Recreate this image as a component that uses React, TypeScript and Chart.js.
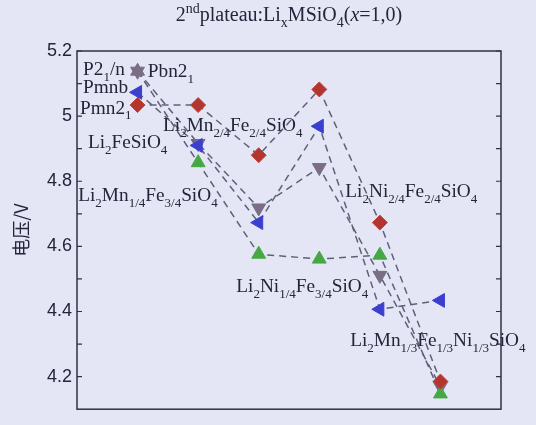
import { useEffect, useRef } from "react";
import { Chart, registerables } from "chart.js";

Chart.register(...registerables);

// Compositions along the horizontal direction (positions 0..5)
const compositions = [
  "Li2FeSiO4",
  "Li2Mn1/4Fe3/4SiO4",
  "Li2Mn2/4Fe2/4SiO4",
  "Li2Ni1/4Fe3/4SiO4",
  "Li2Ni2/4Fe2/4SiO4",
  "Li2Mn1/3Fe1/3Ni1/3SiO4",
];
const compositionIndex = [0, 1, 2, 3, 4, 5];

// Second-plateau voltages (V) for each space group
const pmn21 = [5.034, 5.034, 4.88, 5.082, 4.673, 4.185];
const pmnb = [5.073, 4.91, 4.673, 4.969, 4.407, 4.434];
const p21n = [5.138, 4.916, 4.718, 4.842, 4.511, 4.17];
const pbn21 = [5.138, 4.857, 4.576, 4.561, 4.573, 4.147];

// Axis ticks
const yMajorTicks = [4.2, 4.4, 4.6, 4.8, 5.0, 5.2];
const yMinorTicks = [4.3, 4.5, 4.7, 4.9, 5.1];

// Rich-text labels: _{} subscript, ^{} superscript, *{} italic
const titleText = "2^{nd}plateau:Li_{x}MSiO_{4}(*{x}=1,0)";
const labelTexts = [
  "P2_{1}/n",
  "Pbn2_{1}",
  "Pmnb",
  "Pmn2_{1}",
  "Li_{2}FeSiO_{4}",
  "Li_{2}Mn_{2/4}Fe_{2/4}SiO_{4}",
  "Li_{2}Mn_{1/4}Fe_{3/4}SiO_{4}",
  "Li_{2}Ni_{2/4}Fe_{2/4}SiO_{4}",
  "Li_{2}Ni_{1/4}Fe_{3/4}SiO_{4}",
  "Li_{2}Mn_{1/3}Fe_{1/3}Ni_{1/3}SiO_{4}",
];
// Left-baseline anchor of each label, in data units (x, voltage)
const labelAnchors: [number, number][] = [
  [-0.9, 5.126],
  [0.17, 5.12],
  [-0.9, 5.07],
  [-0.95, 5.008],
  [-0.82, 4.902],
  [0.42, 4.955],
  [-0.98, 4.74],
  [3.43, 4.752],
  [1.63, 4.46],
  [3.51, 4.294],
];

const SERIF = '"Liberation Serif", "Times New Roman", serif';
const BG = "#e4e6f5";
const AXIS = "#2f3247";
const TEXT = "#23253a";
const LINE = "#5e6179";

type Seg = { text: string; kind: "n" | "sub" | "sup" | "it" };

function parseRich(s: string): Seg[] {
  const out: Seg[] = [];
  const re = /_\{([^}]*)\}|\^\{([^}]*)\}|\*\{([^}]*)\}|([^_^*]+)/g;
  let m: RegExpExecArray | null;
  while ((m = re.exec(s))) {
    if (m[1] !== undefined) out.push({ text: m[1], kind: "sub" });
    else if (m[2] !== undefined) out.push({ text: m[2], kind: "sup" });
    else if (m[3] !== undefined) out.push({ text: m[3], kind: "it" });
    else out.push({ text: m[4], kind: "n" });
  }
  return out;
}

function segFont(kind: Seg["kind"], size: number) {
  const s = kind === "sub" || kind === "sup" ? Math.round(size * 0.68) : size;
  return `${kind === "it" ? "italic " : ""}${s}px ${SERIF}`;
}

function drawRich(
  ctx: CanvasRenderingContext2D,
  str: string,
  x: number,
  y: number,
  size: number,
  align: "left" | "center" = "left"
) {
  const segs = parseRich(str);
  let total = 0;
  const widths = segs.map((sg) => {
    ctx.font = segFont(sg.kind, size);
    const w = ctx.measureText(sg.text).width;
    total += w;
    return w;
  });
  let cx = align === "center" ? x - total / 2 : x;
  ctx.textAlign = "left";
  ctx.textBaseline = "alphabetic";
  segs.forEach((sg, i) => {
    ctx.font = segFont(sg.kind, size);
    const dy = sg.kind === "sub" ? size * 0.3 : sg.kind === "sup" ? -size * 0.42 : 0;
    ctx.fillText(sg.text, cx, y + dy);
    cx += widths[i];
  });
}

const framePlugin = {
  id: "frameAndLabels",
  beforeDraw(chart: Chart) {
    const { ctx, width, height } = chart;
    ctx.save();
    ctx.fillStyle = BG;
    ctx.fillRect(0, 0, width, height);
    ctx.restore();
  },
  beforeDatasetsDraw(chart: Chart) {
    const { ctx, chartArea } = chart;
    const y = chart.scales.y;
    const { left, right, top, bottom } = chartArea;
    ctx.save();
    ctx.strokeStyle = AXIS;
    ctx.lineWidth = 1.5;
    ctx.strokeRect(left, top, right - left, bottom - top);
    ctx.lineWidth = 1.2;
    ctx.beginPath();
    [...yMajorTicks, ...yMinorTicks].forEach((v) => {
      const py = y.getPixelForValue(v);
      ctx.moveTo(left, py);
      ctx.lineTo(left + 5, py);
      ctx.moveTo(right, py);
      ctx.lineTo(right - 5, py);
    });
    ctx.stroke();
    ctx.restore();
  },
  afterDatasetsDraw(chart: Chart) {
    const { ctx, chartArea } = chart;
    const xs = chart.scales.x;
    const ys = chart.scales.y;
    ctx.save();
    ctx.fillStyle = TEXT;
    drawRich(ctx, titleText, (chartArea.left + chartArea.right) / 2, chartArea.top - 30, 20, "center");
    labelTexts.forEach((t, i) => {
      const [dx, dy] = labelAnchors[i];
      drawRich(ctx, t, xs.getPixelForValue(dx), ys.getPixelForValue(dy), 19.3);
    });
    ctx.restore();
  },
};

function series(values: number[]) {
  return compositionIndex.map((x, i) => ({ x, y: values[i] }));
}

const lineStyle = {
  borderColor: LINE,
  borderWidth: 1.5,
  borderDash: [7, 5],
  showLine: true,
  fill: false,
  tension: 0,
  pointBorderWidth: 1,
};

export default function App() {
  const canvasRef = useRef<HTMLCanvasElement | null>(null);

  useEffect(() => {
    document.body.style.background = BG;
    const canvas = canvasRef.current;
    if (!canvas) return;
    const green = "#45a844";
    const gray = "#7a6e86";
    const chart = new Chart(canvas, {
      type: "line",
      data: {
        labels: compositions,
        datasets: [
          {
            ...lineStyle,
            label: "Pmn21",
            data: series(pmn21),
            pointStyle: "rectRot",
            pointRadius: 7.5,
            pointBackgroundColor: "#b3352f",
            pointBorderColor: "#c0453a",
          },
          {
            ...lineStyle,
            label: "Pbn21",
            data: series(pbn21),
            pointStyle: "triangle",
            pointRotation: 0,
            pointRadius: 8,
            pointBackgroundColor: pbn21.map((_, i) => (i === 0 ? gray : green)),
            pointBorderColor: pbn21.map((_, i) => (i === 0 ? gray : green)),
          },
          {
            ...lineStyle,
            label: "Pmnb",
            data: series(pmnb),
            pointStyle: "triangle",
            pointRotation: 270,
            pointRadius: 8,
            pointBackgroundColor: "#3a3fd0",
            pointBorderColor: "#3a3fd0",
          },
          {
            ...lineStyle,
            label: "P21/n",
            data: series(p21n),
            pointStyle: "triangle",
            pointRotation: 180,
            pointRadius: 8,
            pointBackgroundColor: gray,
            pointBorderColor: gray,
          },
        ],
      },
      options: {
        animation: false,
        responsive: true,
        maintainAspectRatio: false,
        devicePixelRatio: 1,
        layout: { padding: { left: 0, right: 35, top: 51, bottom: 1 } },
        plugins: {
          legend: { display: false },
          tooltip: { enabled: false },
          title: { display: false },
        },
        scales: {
          x: {
            type: "linear",
            min: -1,
            max: 6,
            display: false,
          },
          y: {
            type: "linear",
            min: 4.1,
            max: 5.2,
            grid: { display: false, drawTicks: false },
            border: { display: false },
            afterBuildTicks: (scale: any) => {
              scale.ticks = yMajorTicks.map((v) => ({ value: v }));
            },
            afterFit: (scale: any) => {
              scale.width = 77;
            },
            ticks: {
              padding: 5,
              color: TEXT,
              font: { family: '"Liberation Sans", Arial, sans-serif', size: 18 },
              callback: (v: any) => String(Math.round(Number(v) * 10) / 10),
            },
            title: {
              display: true,
              text: "电压/V",
              color: TEXT,
              font: { family: '"Noto Sans CJK SC", sans-serif', size: 18 },
              padding: { top: 10, bottom: 0 },
            },
          },
        },
      },
      plugins: [framePlugin],
    });
    return () => chart.destroy();
  }, []);

  return (
    <div style={{ position: "fixed", left: 0, top: 0, width: 536, height: 425, background: BG }}>
      <canvas ref={canvasRef} />
    </div>
  );
}
